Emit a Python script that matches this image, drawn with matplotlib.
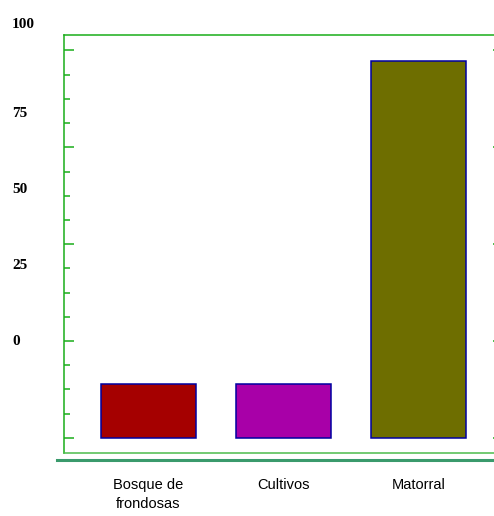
import matplotlib.pyplot as plt
from matplotlib.lines import Line2D
from matplotlib.transforms import ScaledTranslation

categories = ["Bosque de\nfrondosas", "Cultivos", "Matorral"]
values = [13.8, 13.8, 97.2]
bar_colors = ["#a50000", "#a800a8", "#6e6e00"]

label_values = [0, 25, 50, 75, 100]
label_texts = ["0", "25", "50", "75", "100"]

green = "#1aad1a"

fig = plt.figure(
    figsize=(4.94, 5.16),
    dpi=100
)

W, H = 494, 516

# right edge lies past the figure, only tips of the right ticks show
ax = fig.add_axes([
    64 / W,
    1 - 453 / H,
    (503 - 64) / W,
    (453 - 35) / H
])

ax.bar(
    range(len(categories)),
    values,
    width=0.7,
    color=bar_colors,
    edgecolor="#0000a0",
    linewidth=1.1
)

ax.set_xlim(-0.626, 2.626)
ax.set_ylim(-3.9, 104)

ax.set_xticks(range(len(categories)))
ax.set_xticklabels(
    categories,
    fontsize=10.5,
    family="Liberation Sans",
    linespacing=1.45,
    va="top"
)

ax.tick_params(
    axis="x",
    length=0,
    pad=18
)

ax.set_yticks([0, 25, 50, 75, 100])
ax.set_yticks(
    [i * 6.25 for i in range(17)],
    minor=True
)
ax.yaxis.set_ticklabels([])

ax.tick_params(
    axis="y",
    which="major",
    direction="in",
    length=7.2,
    width=1.1,
    color=green,
    right=True
)
ax.tick_params(
    axis="y",
    which="minor",
    direction="in",
    length=4,
    width=1.1,
    color=green,
    right=False
)

for side in ["left", "top", "right"]:
    ax.spines[side].set_color(green)
    ax.spines[side].set_linewidth(1.1)

ax.spines["bottom"].set_color("#4cbc4c")
ax.spines["bottom"].set_linewidth(1.1)

# labels sit on their own scale, offset from the ticks
lab = fig.add_axes(
    ax.get_position(),
    frameon=False
)
lab.set_ylim(-37.2, 100.3)
lab.set_xticks([])
lab.set_yticks(label_values)
lab.set_yticklabels(
    label_texts,
    fontsize=11,
    family="Liberation Serif",
    fontweight="bold",
    ha="left"
)
lab.tick_params(
    axis="y",
    length=0,
    pad=37.5
)

top_label = lab.get_yticklabels()[-1]
top_label.set_transform(
    top_label.get_transform()
    + ScaledTranslation(0, 13 / 100, fig.dpi_scale_trans)
)

fig.add_artist(
    Line2D(
        [57 / W, 1],
        [1 - 459.5 / H, 1 - 459.5 / H],
        transform=fig.transFigure,
        color="#3a9a6c",
        linewidth=2.2
    )
)

fig.savefig("out.png", dpi=100)
plt.close(fig)
